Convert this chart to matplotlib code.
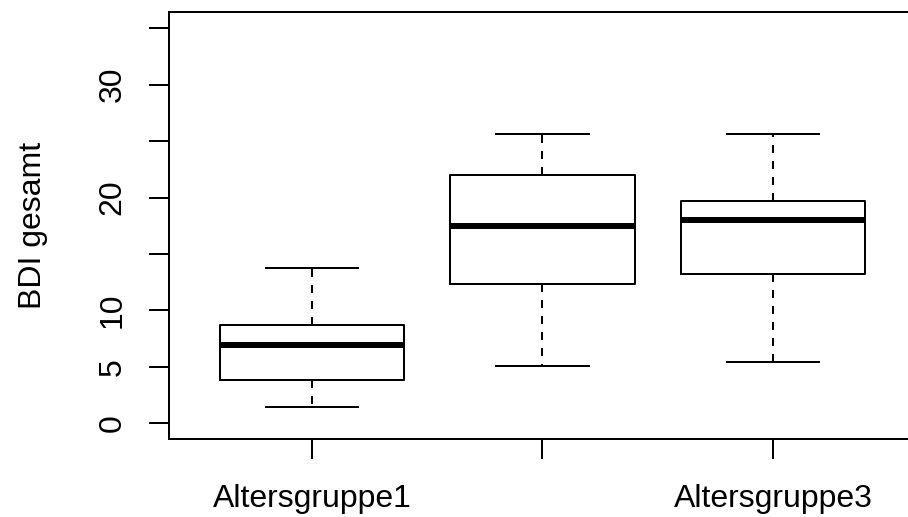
import numpy as np
import matplotlib
matplotlib.use("Agg")
import matplotlib.pyplot as plt

# groups and five-number summaries
categories = ["Altersgruppe1", "Altersgruppe2", "Altersgruppe3"]
shown_labels = ["Altersgruppe1", "", "Altersgruppe3"]
whisker_low = [1.46, 5.06, 5.42]
q1 = [3.82, 12.35, 13.23]
medians = [6.92, 17.45, 18.0]
q3 = [8.74, 21.96, 19.72]
whisker_high = [13.76, 25.65, 25.6]

y_ticks = [0, 5, 10, 15, 20, 25, 30, 35]
y_tick_labels = ["0", "5", "10", "", "20", "", "30", ""]

plt.rcParams['font.family'] = ['Liberation Sans', 'DejaVu Sans']

W, H = 908, 517
fig = plt.figure(figsize=(W / 100, H / 100), dpi=100)

# axes placed in pixels (R-style margins, right edge runs past the image)
left_px, right_px = 169.1, 915.9
top_px, bottom_px = 12.2, 439.3
ax = fig.add_axes([left_px / W, 1 - bottom_px / H,
                   (right_px - left_px) / W, (bottom_px - top_px) / H])

stats = []
for i, name in enumerate(categories):
    stats.append(dict(label=name, whislo=whisker_low[i], q1=q1[i], med=medians[i],
                      q3=q3[i], whishi=whisker_high[i], fliers=[]))

lw = 1.44
ax.bxp(stats, positions=[1, 2, 3], widths=0.8, capwidths=0.4, showfliers=False,
       patch_artist=False,
       boxprops=dict(color="black", linewidth=lw),
       whiskerprops=dict(color="black", linewidth=lw, linestyle=(0, (4, 4))),
       capprops=dict(color="black", linewidth=lw),
       medianprops=dict(color="black", linewidth=4.3, solid_capstyle="butt"))

ax.set_xlim(0.38, 3.62)
ax.set_ylim(-1.4, 36.4)

ax.set_xticks([1, 2, 3])
ax.set_xticklabels(shown_labels)
ax.set_yticks(y_ticks)
ax.set_yticklabels(y_tick_labels, rotation=90, va="center")

ax.tick_params(axis="both", length=14.4, width=lw, labelsize=23, color="black")
ax.tick_params(axis="x", pad=18)
ax.tick_params(axis="y", pad=15.5)

for side in ["left", "bottom", "top", "right"]:
    ax.spines[side].set_linewidth(lw)

ax.set_ylabel("BDI gesamt", fontsize=23)
ax.yaxis.set_label_coords((48 - left_px) / (right_px - left_px), 0.5)

fig.savefig("out.png", dpi=100)
